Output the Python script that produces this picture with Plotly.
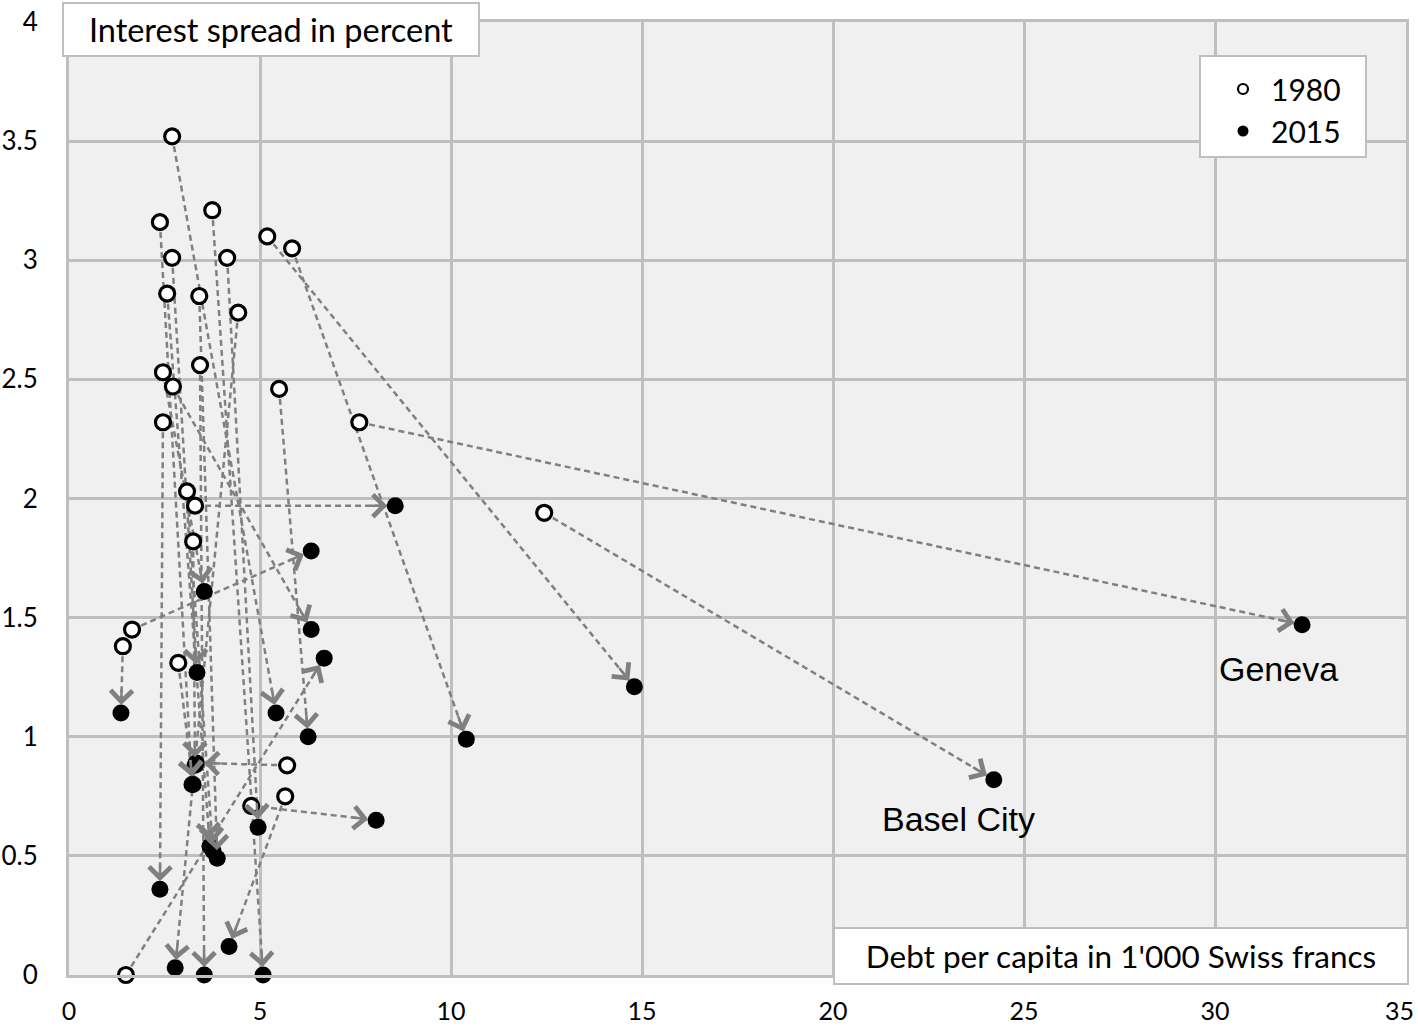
import math
import plotly.graph_objects as go

# 1980 position of each canton (debt per capita in 1'000 CHF, interest spread in %)
x_1980 = [7.60, 12.44, 5.19, 5.84, 3.30, 4.77, 5.66, 5.71, 1.65, 1.49, 2.72, 5.50, 2.70, 3.75,
          4.14, 4.43, 2.46, 2.38, 2.70, 2.57, 3.41, 3.43, 2.46, 1.41, 3.09, 3.25, 2.86]
y_1980 = [2.32, 1.94, 3.10, 3.05, 1.97, 0.71, 0.75, 0.88, 1.45, 0.00, 2.47, 2.46, 3.52, 3.21,
          3.01, 2.78, 2.32, 3.16, 3.01, 2.86, 2.85, 2.56, 2.53, 1.38, 2.03, 1.82, 1.31]

# 2015 position of the same cantons (same order)
x_2015 = [32.28, 24.21, 14.80, 10.40, 8.54, 8.04, 4.19, 3.33, 6.34, 6.68, 6.34, 6.26, 5.42, 5.08,
          4.95, 2.78, 2.38, 3.22, 3.35, 3.69, 3.88, 3.54, 3.54, 1.36, 3.77, 3.30, 3.25]
y_2015 = [1.47, 0.82, 1.21, 0.99, 1.97, 0.65, 0.12, 0.89, 1.78, 1.33, 1.45, 1.00, 1.10, 0.00,
          0.62, 0.03, 0.36, 0.80, 1.27, 0.54, 0.49, 0.00, 1.61, 1.10, 0.52, 0.88, 0.80]

labels = ["Geneva", "Basel City"]

x_ticks = [0, 5, 10, 15, 20, 25, 30, 35]
x_ticktext = ["0", "5", "10", "15", "20", "25", "30", "35\u00a0\u00a0"]
y_ticks = [0, 0.5, 1, 1.5, 2, 2.5, 3, 3.5, 4]

W, H = 1418, 1027
ML, MR, MT, MB = 69, 12, 22, 52
X_MAX, Y_MAX = 35, 4
PW, PH = W - ML - MR, H - MT - MB
sx = PW / X_MAX
sy = PH / Y_MAX

GRID = "#bfbfbf"
ARROW = "#808080"
FONT = "Lato"


def px_x(p):
    return (p - ML) / PW


def px_y(p):
    return 1 - (p - MT) / PH


fig = go.Figure()

# dashed connectors 1980 -> 2015
lx, ly = [], []
for xo, yo, xf, yf in zip(x_1980, y_1980, x_2015, y_2015):
    lx += [xo, xf, None]
    ly += [yo, yf, None]
fig.add_trace(go.Scatter(x=lx, y=ly, mode="lines", showlegend=False, hoverinfo="skip",
                         line=dict(color=ARROW, width=2.5, dash="6px,4px"), cliponaxis=False))

fig.add_trace(go.Scatter(x=x_1980, y=y_1980, mode="markers", showlegend=False, cliponaxis=False,
                         marker=dict(symbol="circle", size=15, color="white",
                                     line=dict(color="black", width=3.2))))
fig.add_trace(go.Scatter(x=x_2015, y=y_2015, mode="markers", showlegend=False, cliponaxis=False,
                         marker=dict(symbol="circle", size=17, color="black",
                                     line=dict(width=0))))

# legend entries with smaller symbols
fig.add_trace(go.Scatter(x=[None], y=[None], mode="markers", name="1980",
                         marker=dict(size=10, color="white", line=dict(color="black", width=2.2))))
fig.add_trace(go.Scatter(x=[None], y=[None], mode="markers", name="2015",
                         marker=dict(size=11, color="black", line=dict(width=0))))

annotations = []
# arrow heads at the 2015 end
L = 26
for xo, yo, xf, yf in zip(x_1980, y_1980, x_2015, y_2015):
    dxp = (xo - xf) * sx
    dyp = -(yo - yf) * sy
    n = math.hypot(dxp, dyp) or 1
    annotations.append(dict(x=xf, y=yf, xref="x", yref="y", text="",
                            ax=dxp / n * L, ay=dyp / n * L,
                            showarrow=True, arrowhead=4, arrowsize=1.7, arrowwidth=2.5,
                            arrowcolor=ARROW, standoff=8))

# canton labels
annotations.append(dict(x=31.65, y=1.285, xref="x", yref="y", text=labels[0], showarrow=False,
                        font=dict(family="Liberation Sans", size=34, color="black")))
annotations.append(dict(x=23.28, y=0.655, xref="x", yref="y", text=labels[1], showarrow=False,
                        font=dict(family="Liberation Sans", size=34, color="black")))

# axis title boxes
annotations.append(dict(x=px_x(62), y=px_y(2),
                        xref="paper", yref="paper", xanchor="left", yanchor="top",
                        text="Interest spread in percent", showarrow=False,
                        width=414, height=51, bgcolor="white", bordercolor=GRID, borderwidth=2,
                        borderpad=0, font=dict(family=FONT, size=32.5, color="black")))
annotations.append(dict(x=px_x(833), y=px_y(927),
                        xref="paper", yref="paper", xanchor="left", yanchor="top",
                        text="Debt per capita in 1'000 Swiss francs", showarrow=False,
                        width=572, height=54, bgcolor="white", bordercolor=GRID, borderwidth=2,
                        borderpad=0, font=dict(family=FONT, size=31.5, color="black")))

# legend frame
shapes = [dict(type="rect", xref="paper", yref="paper", layer="above",
               x0=px_x(1200), x1=px_x(1366), y0=px_y(157), y1=px_y(56),
               fillcolor="white", line=dict(color=GRID, width=2))]

fig.update_layout(
    width=W, height=H,
    margin=dict(l=ML, r=MR, t=MT, b=MB, autoexpand=False),
    paper_bgcolor="white",
    plot_bgcolor="#f0f0f0",
    font=dict(family=FONT, size=26, color="black"),
    annotations=annotations,
    shapes=shapes,
    legend=dict(x=px_x(1215), y=px_y(63),
                xanchor="left", yanchor="top", bgcolor="rgba(0,0,0,0)",
                borderwidth=0, font=dict(family=FONT, size=30, color="black"),
                itemwidth=46),
)
fig.update_xaxes(range=[0, X_MAX], tickvals=x_ticks, ticktext=x_ticktext,
                 showgrid=True, gridcolor=GRID, gridwidth=3,
                 zeroline=False, showline=True, mirror=True, linecolor=GRID, linewidth=3,
                 ticks="", ticklabelstandoff=12, ticklabeloverflow="allow",
                 tickfont=dict(size=25), automargin=False)
fig.update_yaxes(range=[0, Y_MAX], tickvals=y_ticks, showgrid=True, gridcolor=GRID, gridwidth=3,
                 zeroline=False, showline=True, mirror=True, linecolor=GRID, linewidth=3,
                 ticks="", ticklabelstandoff=23, ticklabeloverflow="allow",
                 tickfont=dict(size=26), automargin=False)

fig.write_html("out.html", config={"displayModeBar": False},
               post_script="document.body.style.margin='0';")
